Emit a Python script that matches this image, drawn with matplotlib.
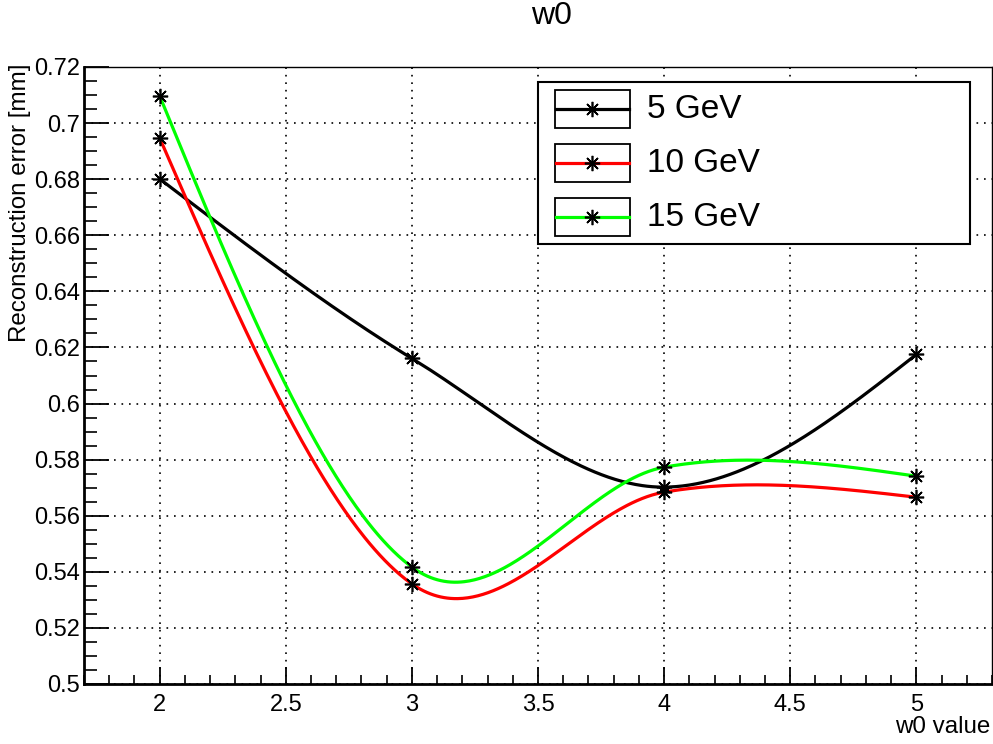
import numpy as np
import matplotlib
matplotlib.use("Agg")
import matplotlib.pyplot as plt
from matplotlib.ticker import MultipleLocator
from matplotlib.patches import Rectangle
from matplotlib.lines import Line2D

plt.rcParams['font.family'] = ['Liberation Sans', 'DejaVu Sans']

# Data
w0_values = [2, 3, 4, 5]
err_5gev = [0.6801, 0.6161, 0.5702, 0.6175]
err_10gev = [0.6947, 0.5357, 0.5684, 0.5666]
err_15gev = [0.7097, 0.5417, 0.5773, 0.5741]
series_labels = ["5 GeV", "10 GeV", "15 GeV"]
series_colors = ["#000000", "#ff0000", "#00ff00"]

W, H = 993, 744
XLIM = (1.7, 5.3)
YLIM = (0.5, 0.72)
AX_L, AX_R, AX_T, AX_B = 84, 992, 67, 684


def smooth_curve(x, y, per_seg=150):
    """Catmull-Rom style cubic Hermite curve through the points.

    Interior tangents are central differences; end tangents give zero
    curvature at the end points.
    """
    x = np.asarray(x, float)
    y = np.asarray(y, float)
    n = len(x)
    m = np.zeros(n)
    for i in range(1, n - 1):
        m[i] = (y[i + 1] - y[i - 1]) / (x[i + 1] - x[i - 1])
    m[0] = (3 * (y[1] - y[0]) / (x[1] - x[0]) - m[1]) / 2
    m[-1] = (3 * (y[-1] - y[-2]) / (x[-1] - x[-2]) - m[-2]) / 2
    xs_all, ys_all = [], []
    for i in range(n - 1):
        h = x[i + 1] - x[i]
        t = np.linspace(0, 1, per_seg)
        h00 = 2 * t ** 3 - 3 * t ** 2 + 1
        h10 = t ** 3 - 2 * t ** 2 + t
        h01 = -2 * t ** 3 + 3 * t ** 2
        h11 = t ** 3 - t ** 2
        xs_all.append(x[i] + t * h)
        ys_all.append(h00 * y[i] + h10 * h * m[i] + h01 * y[i + 1] + h11 * h * m[i + 1])
    return np.concatenate(xs_all), np.concatenate(ys_all)


fig = plt.figure(figsize=(W / 100, H / 100), dpi=100)
ax = fig.add_axes([AX_L / W, 1 - AX_B / H, (AX_R - AX_L) / W, (AX_B - AX_T) / H])

ax.set_xlim(*XLIM)
ax.set_ylim(*YLIM)

ax.xaxis.set_major_locator(MultipleLocator(0.5))
ax.xaxis.set_minor_locator(MultipleLocator(0.1))
ax.yaxis.set_major_locator(MultipleLocator(0.02))
ax.yaxis.set_minor_locator(MultipleLocator(0.005))

ax.grid(True, which='major', color='black', linestyle=(0, (1, 3.5)), linewidth=1.2)

for ys, col in zip([err_5gev, err_10gev, err_15gev], series_colors):
    xs_s, ys_s = smooth_curve(w0_values, ys)
    ax.plot(xs_s, ys_s, color=col, linewidth=2.3, zorder=3)
    ax.plot(w0_values, ys, linestyle='none', marker=(8, 2, 0), markersize=11,
            markeredgewidth=1.2, color='black', zorder=4)

ax.tick_params(axis='both', which='both', direction='in', labelsize=17,
               top=False, right=False)
ax.tick_params(axis='x', which='major', length=12, width=1.3, pad=7)
ax.tick_params(axis='x', which='minor', length=6.5, width=1.2)
ax.tick_params(axis='y', which='major', length=18, width=1.3, pad=3)
ax.tick_params(axis='y', which='minor', length=9, width=1.2)

ax.yaxis.set_major_formatter(plt.FuncFormatter(lambda v, p: f"{v:.2f}".rstrip('0').rstrip('.')))
ax.xaxis.set_major_formatter(plt.FuncFormatter(lambda v, p: f"{v:g}"))

ax.spines['left'].set_linewidth(2)
ax.spines['bottom'].set_linewidth(2)
ax.spines['top'].set_linewidth(1)
ax.spines['right'].set_linewidth(1)

# Titles
fig.text(551 / W, 1 - 16 / H, "w0", fontsize=23, ha='center', va='center')
fig.text(990 / W, 1 - 727 / H, "w0 value", fontsize=17.4, ha='right', va='center')
fig.text(20 / W, 1 - 63 / H, "Reconstruction error [mm]", fontsize=17.4,
         rotation=90, ha='center', va='top')


# Legend box drawn in pixel coordinates
def px(x, y):
    return x / W, 1 - y / H


def rect(x0, y0, x1, y1, lw):
    fx, fy = px(x0, y1)
    fig.patches.append(Rectangle((fx, fy), (x1 - x0) / W, (y1 - y0) / H,
                                 transform=fig.transFigure, facecolor='white',
                                 edgecolor='black', linewidth=lw, zorder=10))


rect(538, 82, 970, 244, 1.5)
for i, (lab, col) in enumerate(zip(series_labels, series_colors)):
    yc = 109 + 54 * i
    rect(555, yc - 19, 630, yc + 19, 1.3)
    x0, y0 = px(556, yc)
    x1, _ = px(629, yc)
    fig.lines.append(Line2D([x0, x1], [y0, y0], transform=fig.transFigure,
                            color=col, linewidth=2.3, zorder=11))
    xm, ym = px(592, yc)
    fig.lines.append(Line2D([xm], [ym], transform=fig.transFigure,
                            marker=(8, 2, 0), markersize=11, markeredgewidth=1.2,
                            color='black', zorder=12))
    fig.text(647 / W, 1 - (yc + 1) / H, lab, fontsize=24, ha='left', va='center',
             zorder=12)

fig.savefig("out.png", dpi=100)
